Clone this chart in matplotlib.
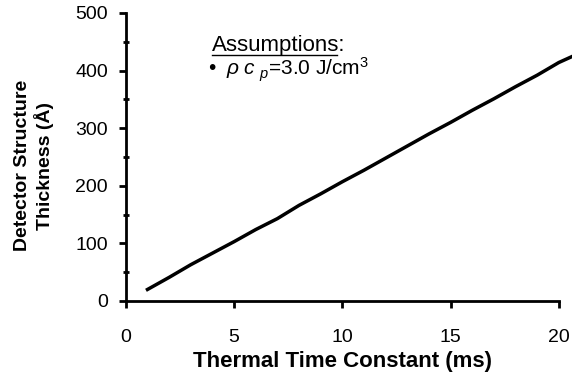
import matplotlib.pyplot as plt
from matplotlib.ticker import MultipleLocator
from matplotlib.lines import Line2D

plt.switch_backend('AGG')
plt.rcParams['font.family'] = ['Liberation Sans', 'DejaVu Sans']
plt.rcParams['mathtext.fontset'] = 'custom'
plt.rcParams['mathtext.rm'] = 'Liberation Sans'
plt.rcParams['mathtext.it'] = 'Liberation Sans:italic'

# данные (линия выходит за правый край, как в оригинале)
time_ms = [1, 2, 3, 4, 5, 6, 7, 8, 9, 10, 11, 12, 13, 14, 15, 16, 17, 18, 19, 20, 21]
thickness = [20, 41, 63, 83, 103, 124, 143, 166, 186, 207,
             227, 248, 269, 290, 310, 331, 351, 372, 392, 414, 431]

fig = plt.figure(figsize=(5.72, 3.81), dpi=100)
ax = fig.add_axes([0.220, 0.210, 0.757, 0.756])

ax.plot(time_ms, thickness, color='black', lw=2.5, clip_on=False)

ax.set_xlim(0, 20)
ax.set_ylim(0, 500)
ax.xaxis.set_major_locator(MultipleLocator(5))
ax.yaxis.set_major_locator(MultipleLocator(100))
ax.yaxis.set_minor_locator(MultipleLocator(50))

for side in ['top', 'right']:
    ax.spines[side].set_visible(False)
for side in ['left', 'bottom']:
    ax.spines[side].set_linewidth(2)

ax.tick_params(axis='both', which='both', direction='out', length=5, width=2,
               labelsize=14)
ax.tick_params(axis='y', which='both', pad=8)
ax.tick_params(axis='x', which='both', pad=15)
ax.tick_params(axis='y', which='minor', direction='inout', length=5)

ax.set_xlabel('Thermal Time Constant (ms)', fontsize=16, fontweight='bold', labelpad=4)
ax.set_ylabel('Detector Structure\nThickness (Å)', fontsize=14, fontweight='bold',
              linespacing=1.2)
ax.yaxis.set_label_coords(-0.165, 0.47)

# подпись с допущениями
ax.text(0.199, 0.868, 'Assumptions:', transform=ax.transAxes, fontsize=16,
        ha='left', va='baseline')
ax.add_line(Line2D([0.199, 0.487], [0.855, 0.855], transform=ax.transAxes,
                   color='black', lw=1))
ax.text(0.189, 0.783, r'•  $\rho\;c_{\;\,p}$=3.0 J/cm$^3$', transform=ax.transAxes,
        fontsize=15, ha='left', va='baseline')

fig.savefig('out.png', dpi=100)
plt.close(fig)
